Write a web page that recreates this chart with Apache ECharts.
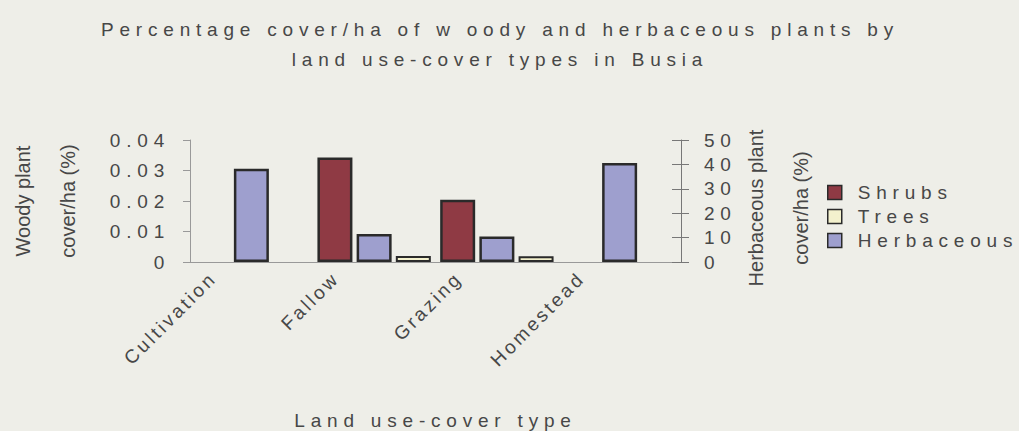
<!DOCTYPE html>
<html>
<head>
<meta charset="utf-8">
<title>Percentage cover/ha of woody and herbaceous plants - Busia</title>
<script src="https://cdn.jsdelivr.net/npm/echarts@6.0.0/dist/echarts.min.js"></script>
<style>
  html, body { margin: 0; padding: 0; background: #eeeee8; }
  #chart { width: 1019px; height: 431px; }
  /* the scanned chart uses very wide letter spacing */
  #chart text[style*="Arial"] { letter-spacing: 5.8px; }
  #chart text[style*="Liberation"] { letter-spacing: 3px; }
  #chart text[style*="Liberation"][style*="20px"] { letter-spacing: 0; }
</style>
</head>
<body>
<div id="chart"></div>
<script>
const categories = ['Cultivation', 'Fallow', 'Grazing', 'Homestead'];
const shrubs = [null, 0.0343, 0.0204, null];
const trees = [null, 0.002, 0.0019, null];
const herbaceous = [38.2, 11.5, 10.5, 40.6];
const legendNames = ['Shrubs', 'Trees', 'Herbaceous'];

const textColor = '#474747';
const edge = '#2a2a2a';

const chart = echarts.init(document.getElementById('chart'), null, { renderer: 'svg' });

chart.setOption({
  animation: false,
  backgroundColor: '#eeeee8',
  title: {
    text: 'Percentage cover/ha of w oody and herbaceous plants by\nland use-cover types in Busia',
    left: 500,
    top: 14,
    padding: 0,
    textAlign: 'center',
    textStyle: {
      fontFamily: 'Arial',
      fontSize: 19,
      fontWeight: 'normal',
      lineHeight: 30,
      color: textColor
    }
  },
  legend: {
    data: legendNames,
    orient: 'vertical',
    left: 827,
    top: 183,
    padding: 0,
    itemWidth: 14,
    itemHeight: 14,
    itemGap: 5,
    icon: 'rect',
    itemStyle: { borderColor: edge, borderWidth: 1.5 },
    textStyle: {
      fontFamily: 'Arial',
      fontSize: 19,
      color: textColor,
      padding: [0, 0, 0, 11]
    }
  },
  grid: {
    left: 190,
    right: 338,
    top: 140,
    bottom: 169,
    containLabel: false,
    outerBoundsMode: 'none'
  },
  xAxis: {
    type: 'category',
    data: categories,
    name: 'Land use-cover type',
    nameLocation: 'middle',
    nameGap: 148,
    nameTextStyle: { fontFamily: 'Arial', fontSize: 19, lineHeight: 20, color: textColor },
    axisLine: { lineStyle: { color: '#999', width: 1 } },
    axisTick: { length: 5, lineStyle: { color: '#999' } },
    axisLabel: {
      interval: 0,
      rotate: 45,
      margin: -25,
      padding: [0, 54, 0, 0],
      fontFamily: 'Liberation Sans',
      fontSize: 19,
      color: textColor
    }
  },
  yAxis: [
    {
      type: 'value',
      position: 'left',
      min: 0,
      max: 0.04,
      interval: 0.01,
      name: 'Woody plant\ncover/ha (%)',
      nameLocation: 'middle',
      nameRotate: 90,
      nameGap: 100,
      nameTextStyle: { fontFamily: 'Liberation Sans', fontSize: 20, lineHeight: 45, color: textColor },
      axisLine: { show: true, lineStyle: { color: '#999', width: 1 } },
      axisTick: { show: true, length: 7, lineStyle: { color: '#999' } },
      axisLabel: {
        margin: 20,
        fontFamily: 'Arial',
        fontSize: 19,
        color: textColor,
        formatter: v => (v === 0 ? '0' : v.toFixed(2))
      },
      splitLine: { show: false }
    },
    {
      type: 'value',
      position: 'right',
      min: 0,
      max: 50,
      interval: 10,
      name: 'Herbaceous plant\ncover/ha (%)',
      nameLocation: 'middle',
      nameRotate: 90,
      nameGap: 52,
      nameTextStyle: {
        fontFamily: 'Liberation Sans',
        fontSize: 20,
        lineHeight: 45,
        color: textColor,
        padding: [0, 14, 0, 0]
      },
      axisLine: { show: true, lineStyle: { color: '#777', width: 1 } },
      axisTick: { show: true, length: 8, lineStyle: { color: '#777' } },
      axisLabel: { margin: 23, fontFamily: 'Arial', fontSize: 19, color: textColor },
      splitLine: { show: false }
    },
    {
      // inner half of the crossing ticks on the right axis
      type: 'value',
      position: 'right',
      min: 0,
      max: 50,
      interval: 10,
      axisLine: { show: false },
      axisTick: { show: true, inside: true, length: 9, lineStyle: { color: '#777' } },
      axisLabel: { show: false },
      splitLine: { show: false }
    }
  ],
  series: [
    {
      name: 'Shrubs',
      type: 'bar',
      yAxisIndex: 0,
      data: shrubs,
      barWidth: 35,
      barGap: '12%',
      itemStyle: { color: '#8f3a44', borderColor: edge, borderWidth: 2.5 }
    },
    {
      name: 'Herbaceous',
      type: 'bar',
      yAxisIndex: 1,
      data: herbaceous,
      barWidth: 35,
      barGap: '12%',
      itemStyle: { color: '#9e9fce', borderColor: edge, borderWidth: 2.5 }
    },
    {
      name: 'Trees',
      type: 'bar',
      yAxisIndex: 0,
      data: trees,
      barWidth: 35,
      barGap: '12%',
      itemStyle: { color: '#f3f1cd', borderColor: edge, borderWidth: 2 }
    }
  ]
});
</script>
</body>
</html>
